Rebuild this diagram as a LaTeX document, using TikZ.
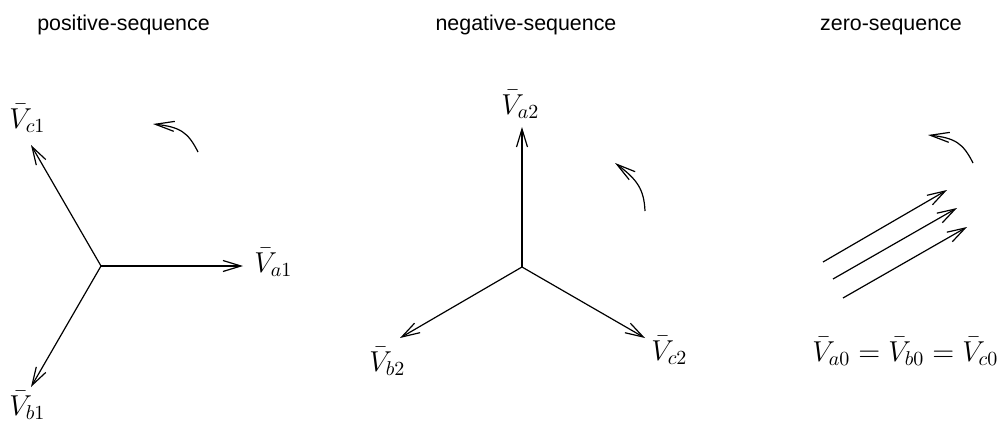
\documentclass[tikz,border=0pt]{standalone}
\usepackage{fontspec}
\newfontfamily\titlefont{Liberation Sans}
\usetikzlibrary{arrows.meta}
\begin{document}
\begin{tikzpicture}[x=0.5pt,y=-0.5pt,
  phasor/.style={line width=0.6pt,-{Straight Barb[length=9pt,width=5.5pt]}},
  rot/.style={line width=0.6pt,-{Straight Barb[length=9.5pt,width=5pt]}},
  title/.style={font=\titlefont\fontsize{10.7pt}{12pt}\selectfont,anchor=base,inner sep=0pt},
  lbl/.style={font=\fontsize{14.6pt}{17pt}\selectfont,anchor=base west,inner sep=0pt}]
\useasboundingbox (0,0) rectangle (1008,428);
% titles
\node[title] (t1) at (123.5,31) {positive-sequence};
\node[title] (t2) at (526,31) {negative-sequence};
\node[title] (t3) at (891,31) {zero-sequence};
% positive sequence
\coordinate (o1) at (101,266);
\coordinate (a1) at (243,266);
\coordinate (c1) at (31,145);
\coordinate (b1) at (31,387);
\draw[phasor] (o1) -- (a1);
\draw[phasor] (o1) -- (c1);
\draw[phasor] (o1) -- (b1);
\node[lbl] (la1) at (254,272) {$\bar{V}_{a1}$};
\node[lbl] (lc1) at (9,128) {$\bar{V}_{c1}$};
\node[lbl] (lb1) at (9,415) {$\bar{V}_{b1}$};
\coordinate (r1s) at (198,152);
\coordinate (r1e) at (153,124);
\draw[rot] (r1s) .. controls (188,132) and (180,127) .. (r1e);
% negative sequence
\coordinate (o2) at (522,267);
\coordinate (a2) at (522,127);
\coordinate (b2) at (400,338);
\coordinate (c2) at (645,338);
\draw[phasor] (o2) -- (a2);
\draw[phasor] (o2) -- (b2);
\draw[phasor] (o2) -- (c2);
\node[lbl] (la2) at (501,114) {$\bar{V}_{a2}$};
\node[lbl] (lb2) at (369,371) {$\bar{V}_{b2}$};
\node[lbl] (lc2) at (651,360) {$\bar{V}_{c2}$};
\coordinate (r2s) at (645,211);
\coordinate (r2e) at (615,163);
\draw[rot] (r2s) .. controls (644,190) and (638,180) .. (r2e);
% zero sequence
\coordinate (z1s) at (823,262); \coordinate (z1e) at (947,190);
\coordinate (z2s) at (833,279); \coordinate (z2e) at (957,208);
\coordinate (z3s) at (843,298); \coordinate (z3e) at (967,227);
\draw[phasor] (z1s) -- (z1e);
\draw[phasor] (z2s) -- (z2e);
\draw[phasor] (z3s) -- (z3e);
\node[lbl] (l0) at (812,361) {$\bar{V}_{a0}=\bar{V}_{b0}=\bar{V}_{c0}$};
\coordinate (r3s) at (973,163);
\coordinate (r3e) at (928,135);
\draw[rot] (r3s) .. controls (963,143) and (955,138) .. (r3e);
\end{tikzpicture}
\end{document}
